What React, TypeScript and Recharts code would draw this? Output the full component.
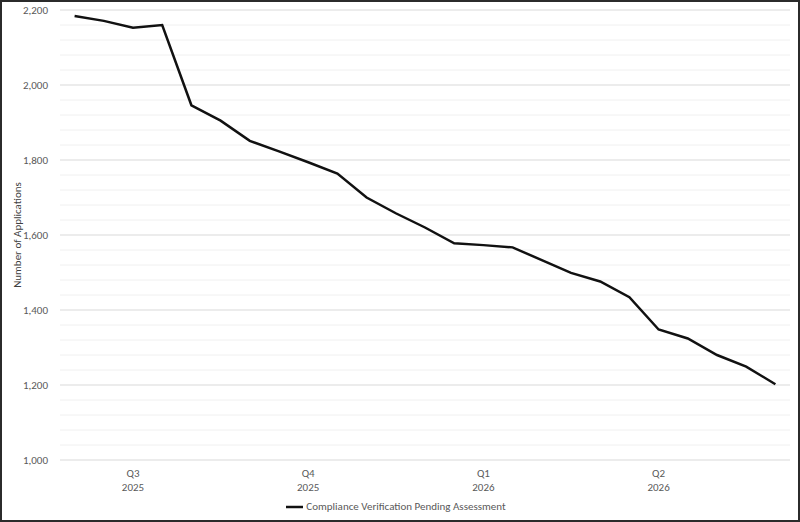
import { LineChart, Line, XAxis, YAxis, CartesianGrid, ReferenceLine, Legend } from "recharts";

// Biweekly snapshots, numbered 1..25
const periods = [1, 2, 3, 4, 5, 6, 7, 8, 9, 10, 11, 12, 13, 14, 15, 16, 17, 18, 19, 20, 21, 22, 23, 24, 25];
const pending = [
  2184, 2171, 2153, 2160, 1946, 1905, 1851, 1823, 1794, 1764, 1700, 1658, 1620,
  1578, 1573, 1567, 1533, 1499, 1476, 1434, 1348, 1324, 1280, 1249, 1202,
];

const quarterTicks = [3, 9, 15, 21];
const quarterNames = ["Q3", "Q4", "Q1", "Q2"];
const quarterYears = ["2025", "2025", "2026", "2026"];

const yTicks = [1000, 1200, 1400, 1600, 1800, 2000, 2200];
const minorLines = [
  1040, 1080, 1120, 1160, 1240, 1280, 1320, 1360, 1440, 1480, 1520, 1560,
  1640, 1680, 1720, 1760, 1840, 1880, 1920, 1960, 2040, 2080, 2120, 2160,
];

const seriesName = "Compliance Verification Pending Assessment";
const font = "Carlito, Calibri, 'Liberation Sans', 'Noto Sans', sans-serif";

const data = periods.map((p, i) => ({ period: p, value: pending[i] }));

function QuarterTick(props: any) {
  const { x, y, payload } = props;
  const idx = quarterTicks.indexOf(payload.value);
  if (idx < 0) return null;
  return (
    <text x={x} y={y} textAnchor="middle" fill="#595959" fontSize={11} fontFamily={font}>
      <tspan x={x} dy={9}>{quarterNames[idx]}</tspan>
      <tspan x={x} dy={14}>{quarterYears[idx]}</tspan>
    </text>
  );
}

function LegendContent() {
  return (
    <div style={{ display: "flex", justifyContent: "center", alignItems: "center", fontFamily: font, fontSize: 11, color: "#595959" }}>
      <svg width={18} height={10} style={{ marginRight: 2 }}>
        <line x1={0} y1={5} x2={17} y2={5} stroke="#111" strokeWidth={2.5} />
      </svg>
      <span>{seriesName}</span>
    </div>
  );
}

export default function App() {
  return (
    <div
      style={{
        position: "absolute",
        left: 0,
        top: 0,
        width: 800,
        height: 522,
        boxSizing: "border-box",
        border: "2px solid #2b2b2b",
        background: "#fff",
      }}
    >
      <LineChart width={796} height={518} data={data} margin={{ top: 8, right: 8, bottom: 0, left: 0 }}>
        <CartesianGrid vertical={false} stroke="#d9d9d9" />
        {minorLines.map((v) => (
          <ReferenceLine key={v} y={v} stroke="#f0f0f0" strokeWidth={1} />
        ))}
        <XAxis
          dataKey="period"
          type="number"
          domain={[0.5, 25.5]}
          ticks={quarterTicks}
          tick={<QuarterTick />}
          tickLine={false}
          axisLine={false}
          height={40}
          interval={0}
        />
        <YAxis
          domain={[1000, 2200]}
          ticks={yTicks}
          tickFormatter={(v: number) => v.toLocaleString("en-US")}
          tick={{ fill: "#595959", fontSize: 11, fontFamily: font }}
          tickLine={false}
          axisLine={false}
          width={58}
          tickMargin={6}
          label={{
            value: "Number of Applications",
            angle: -90,
            position: "insideLeft",
            offset: 15,
            style: { textAnchor: "middle", fill: "#404040", fontSize: 11, fontFamily: font },
          }}
        />
        <Legend verticalAlign="bottom" height={20} content={<LegendContent />} />
        <Line
          type="linear"
          dataKey="value"
          name={seriesName}
          stroke="#111"
          strokeWidth={2.5}
          dot={false}
          activeDot={false}
          isAnimationActive={false}
        />
      </LineChart>
    </div>
  );
}
